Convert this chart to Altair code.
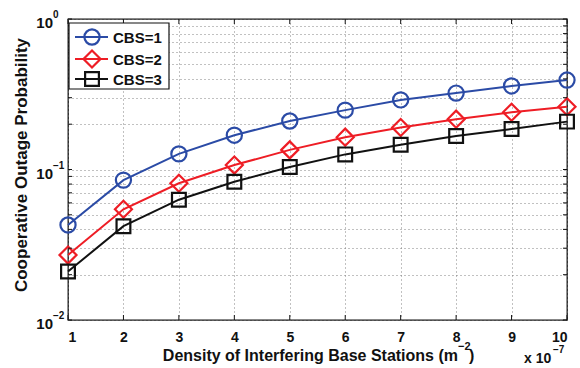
import altair as alt
import pandas as pd

density = [1, 2, 3, 4, 5, 6, 7, 8, 9, 10]
cbs1 = [0.0428, 0.085, 0.127, 0.169, 0.21, 0.248, 0.29, 0.322, 0.359, 0.393]
cbs2 = [0.027, 0.0544, 0.081, 0.107, 0.135, 0.164, 0.19, 0.216, 0.24, 0.261]
cbs3 = [0.021, 0.042, 0.063, 0.083, 0.104, 0.126, 0.146, 0.167, 0.186, 0.208]
series_names = ["CBS=1", "CBS=2", "CBS=3"]
colors = ["#2B4BA6", "#EE1D25", "#111111"]
shapes = ["circle", "diamond", "square"]
marker_sizes = [230, 290, 190]
decades = [0.01, 0.1, 1.0]
decade_exps = ["−2", "−1", "0"]

rows = []
for name, vals in zip(series_names, [cbs1, cbs2, cbs3]):
    for x, v in zip(density, vals):
        rows.append({"density": x, "prob": v, "series": name})
df = pd.DataFrame(rows)

y_ticks = []
for e in [-2, -1]:
    for m in range(1, 10):
        y_ticks.append(m * 10 ** e)
y_ticks.append(1.0)

W, H = 499, 301
FONT = "Liberation Sans"
INK = "#111111"

x_scale = alt.Scale(domain=[1, 10], nice=False)
y_scale = alt.Scale(type="log", domain=[0.01, 1], nice=False)

x_enc = alt.X("density:Q", scale=x_scale,
              axis=alt.Axis(values=density, title="", format="d", grid=True,
                            gridDash=[1, 3], gridColor="#777777", gridOpacity=0.9,
                            tickSize=0, labelPadding=10))
y_enc = alt.Y("prob:Q", scale=y_scale,
              axis=alt.Axis(values=y_ticks, title="", labelExpr="''",
                            grid=True, gridDash=[1, 3], gridColor="#777777", gridOpacity=0.9,
                            tickSize=0))

layers = []
for i, name in enumerate(series_names):
    base = alt.Chart(df).transform_filter(alt.datum.series == name)
    line = base.mark_line(color=colors[i], strokeWidth=2).encode(x=x_enc, y=y_enc)
    pts = base.mark_point(shape=shapes[i], color=colors[i], strokeWidth=2.2,
                          size=marker_sizes[i], filled=False, opacity=1).encode(x=x_enc, y=y_enc)
    layers += [line, pts]

# inward tick marks (MATLAB style)
xt = pd.DataFrame({"density": density})
yt = pd.DataFrame({"prob": y_ticks})
tick_layers = [
    alt.Chart(xt).mark_rule(color=INK, strokeWidth=1).encode(
        x=alt.X("density:Q", scale=x_scale), y=alt.value(H - 5), y2=alt.value(H)),
    alt.Chart(xt).mark_rule(color=INK, strokeWidth=1).encode(
        x=alt.X("density:Q", scale=x_scale), y=alt.value(0), y2=alt.value(5)),
    alt.Chart(yt).mark_rule(color=INK, strokeWidth=1).encode(
        y=alt.Y("prob:Q", scale=y_scale), x=alt.value(0), x2=alt.value(4)),
    alt.Chart(yt).mark_rule(color=INK, strokeWidth=1).encode(
        y=alt.Y("prob:Q", scale=y_scale), x=alt.value(W - 4), x2=alt.value(W)),
]

# y tick labels as 10 with superscript exponent
dec_df = pd.DataFrame({"prob": decades, "exp": decade_exps, "base": ["10"] * 3})
ylab_layers = [
    alt.Chart(dec_df).mark_text(align="right", baseline="alphabetic", dy=9, fontSize=15,
                                fontWeight="bold", font=FONT, color=INK).encode(
        y=alt.Y("prob:Q", scale=y_scale), x=alt.value(-15), text="base:N"),
    alt.Chart(dec_df).mark_text(align="left", baseline="alphabetic", dy=-1, fontSize=10,
                                fontWeight="bold", font=FONT, color=INK).encode(
        y=alt.Y("prob:Q", scale=y_scale), x=alt.value(-15), text="exp:N"),
]

# legend
legend_layers = [
    alt.Chart(pd.DataFrame({"a": [0]})).mark_rect(fill="white", stroke=INK, strokeWidth=1.2)
    .encode(x=alt.value(1), x2=alt.value(101), y=alt.value(4), y2=alt.value(70))
]
row_y = [18, 40, 60]
for i, name in enumerate(series_names):
    d = pd.DataFrame({"label": [name]})
    legend_layers.append(
        alt.Chart(d).mark_rule(color=colors[i], strokeWidth=2)
        .encode(x=alt.value(7), x2=alt.value(40), y=alt.value(row_y[i])))
    legend_layers.append(
        alt.Chart(d).mark_point(shape=shapes[i], color=colors[i], strokeWidth=2.2,
                                size=marker_sizes[i], filled=False, opacity=1)
        .encode(x=alt.value(24), y=alt.value(row_y[i])))
    legend_layers.append(
        alt.Chart(d).mark_text(align="left", baseline="middle", fontSize=15, fontWeight="bold",
                               font=FONT, color=INK)
        .encode(x=alt.value(45), y=alt.value(row_y[i] + 1), text="label:N"))

# titles
def txt(s, x, y, size, align="left", angle=0, baseline="alphabetic"):
    return alt.Chart(pd.DataFrame({"t": [s]})).mark_text(
        align=align, baseline=baseline, fontSize=size, fontWeight="bold",
        font=FONT, color=INK, angle=angle
    ).encode(x=alt.value(x), y=alt.value(y), text="t:N")

title_layers = [
    txt("Density of Interfering Base Stations (m", 390, 342, 16, align="right"),
    txt("−2", 390, 331, 11),
    txt(")", 401, 342, 16),
    txt("x 10", 456, 344, 14),
    txt("−7", 485, 334, 10),
    txt("Cooperative Outage Probability", -46, 146, 17, align="center", angle=270,
        baseline="middle"),
]

chart = alt.layer(*layers, *tick_layers, *ylab_layers, *legend_layers, *title_layers).properties(
    width=W, height=H,
    autosize=alt.AutoSizeParams(type="none"),
    padding={"left": 68, "top": 19, "right": 13, "bottom": 48},
    background="white",
).configure_view(
    stroke=INK, strokeWidth=1.3
).configure_axis(
    labelFont=FONT, titleFont=FONT,
    labelFontSize=14, labelFontWeight="bold", labelColor=INK,
    domain=False
)

chart.save("out.html", embed_options={"renderer": "svg", "actions": False})
